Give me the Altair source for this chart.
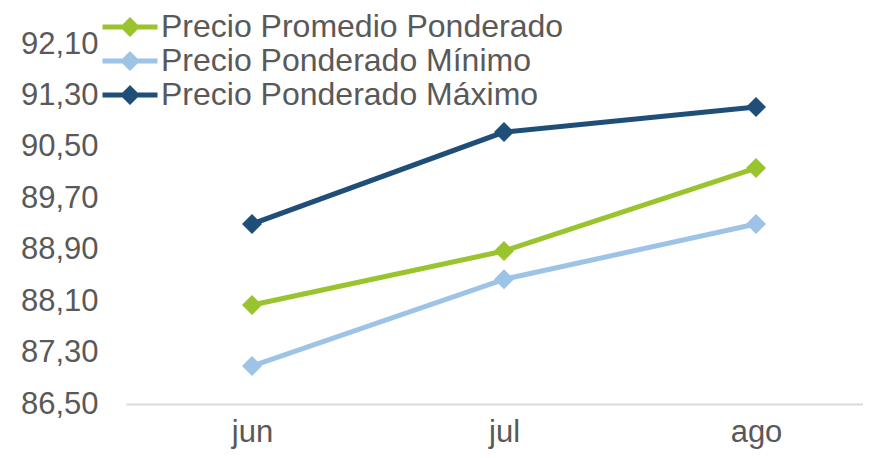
import altair as alt
import pandas as pd

months = ["jun", "jul", "ago"]
series_names = ["Precio Promedio Ponderado", "Precio Ponderado Mínimo", "Precio Ponderado Máximo"]
promedio = [88.04, 88.88, 90.17]
minimo = [87.09, 88.44, 89.30]
maximo = [89.30, 90.73, 91.12]
y_ticks = [86.5, 87.3, 88.1, 88.9, 89.7, 90.5, 91.3, 92.1]
colors = ["#9AC42E", "#9DC3E6", "#1F4E79"]

rows = []
for name, vals in zip(series_names, [promedio, minimo, maximo]):
    for i, (m, v) in enumerate(zip(months, vals)):
        rows.append({"idx": i, "mes": m, "serie": name, "valor": v})
df = pd.DataFrame(rows)

month_list_expr = "[" + ",".join("'" + m + "'" for m in months) + "]"

legend_path = ("M-2.75,-0.25 L2.75,-0.25 L2.75,0.25 L-2.75,0.25 Z "
               "M0,-1 L1,0 L0,1 L-1,0 Z")

x_enc = alt.X("idx:Q",
              scale=alt.Scale(domain=[-0.5, 2.4246], nice=False, zero=False),
              axis=alt.Axis(title=None, values=list(range(len(months))), labelAngle=0,
                            labelFontSize=31, labelColor="#595959",
                            labelFont="Liberation Sans", ticks=False, domainColor="#D9D9D9",
                            domainWidth=2, labelPadding=13, grid=False,
                            labelExpr=month_list_expr + "[datum.value]"))
y_enc = alt.Y("valor:Q",
              scale=alt.Scale(domain=[86.5, 92.1], nice=False, zero=False),
              axis=alt.Axis(title=None, values=y_ticks, labelFontSize=31, labelColor="#595959",
                            labelFont="Liberation Sans", ticks=False, domain=False, grid=False,
                            labelPadding=28,
                            labelExpr="replace(format(datum.value, '.2f'), '.', ',')"))
color_enc = alt.Color("serie:N",
                      scale=alt.Scale(domain=series_names, range=colors),
                      legend=alt.Legend(title=None, orient="none", legendX=-12, legendY=-33,
                                        symbolType=legend_path, symbolSize=400,
                                        symbolStrokeWidth=0, labelFontSize=32,
                                        labelFont="Liberation Sans", labelColor="#595959",
                                        labelOffset=15, rowPadding=2, labelLimit=600))

points = alt.Chart(df).mark_point(filled=True, shape="diamond", size=400, opacity=1).encode(
    x=x_enc, y=y_enc, color=color_enc)
lines = alt.Chart(df).mark_line(strokeWidth=5).encode(
    x=x_enc, y=y_enc, color=color_enc)

chart = alt.layer(points, lines).properties(
    width=737, height=360,
    autosize=alt.AutoSizeParams(type="none"),
    padding={"left": 118, "top": 36, "right": 0, "bottom": 46},
).configure(background="white", view=alt.ViewConfig(stroke=None))

chart.save("out.html", embed_options={"renderer": "svg", "actions": False})
